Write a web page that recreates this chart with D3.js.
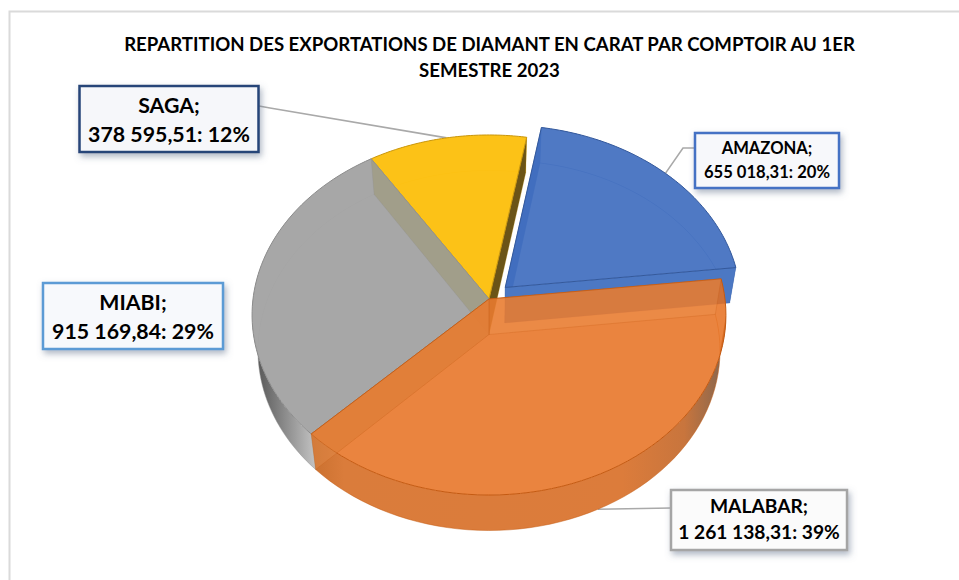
<!DOCTYPE html>
<html>
<head>
<meta charset="utf-8">
<script src="https://cdn.jsdelivr.net/npm/d3@7"></script>
<style>
  body { margin: 0; background: #fff; }
  text { font-family: Lato, "Open Sans", sans-serif; font-weight: 700; fill: #000; }
</style>
</head>
<body>
<div class="chart"></div>
<script>
// Data
let categories = ["AMAZONA", "MALABAR", "MIABI", "SAGA"];
let carats = [655018.31, 1261138.31, 915169.84, 378595.51];
let valueLabels = ["655 018,31", "1 261 138,31", "915 169,84", "378 595,51"];
let percentLabels = ["20%", "39%", "29%", "12%"];
let titleLines = [
  "REPARTITION DES EXPORTATIONS DE DIAMANT EN CARAT PAR COMPTOIR AU 1ER",
  "SEMESTRE 2023"
];

// Slice styles, same order as categories
let topFill = ["#406ebf", "#e66e1d", "#a3a3a3", "#fcc010"];
let topOpacity = [0.92, 0.85, 0.96, 0.97];
let edgeColor = ["#34599c", "#c55a11", "#8c8c8c", "#c9960c"];
let radialFill = ["#4c78c3", "#ee9a5c", "#a09d88", "#6b5417"];
let radialOpacity = [1, 0.25, 0.95, 1];
let wallsAbove = [false, true, true, false];
let whiteBase = [true, false, true, true]; // only the orange slice lets what is behind show through
let wallFromStep = [0, 5, 0, 0];
let outerFill = ["#4c78c3", "url(#wallOrange)", "url(#wallGrey)", "#fcc216"];
let explode = [0.095, 0, 0, 0];
let paintOrder = [0, 3, 2, 1];

// Label boxes, same order as categories
let boxes = [
  { x: 695, y: 133, w: 144, h: 55, stroke: "#4472c4", fill: "#f7f8fb", size: 16.6, line1: 154, line2: 178, width: 2.5 },
  { x: 671, y: 490, w: 176, h: 60, stroke: "#a5a5a5", fill: "#fbfbfb", size: 19.2, line1: 513, line2: 539, width: 2.5 },
  { x: 43, y: 283, w: 180, h: 66, stroke: "#5b9bd5", fill: "#f7f9fc", size: 21.3, line1: 310, line2: 339, width: 2.5 },
  { x: 79.5, y: 86, w: 179, h: 66, stroke: "#264478", fill: "#f6f7fa", size: 21.3, line1: 113, line2: 142, width: 2.5 }
];
// Elbow of the leader, null when the slice has no leader
let leaderElbows = [[683, 148], [671, 508], null, [270, 108]];
let leaderStarts = [[694, 148], [671, 508], null, [259, 106]];

let svgWidth = 959;
let svgHeight = 580;

// Pie geometry: apex on screen, disc radii, perspective and thickness
let apexX = 489;
let apexY = 299;
let radiusX = 236;
let radiusY = 178.6;
let tilt = -0.0889;
let depth = 35.5;
let bottomScale = 0.975;

let svg = d3.select(".chart")
  .append("svg")
  .attr("width", svgWidth)
  .attr("height", svgHeight)
  .style("display", "block");

let defs = svg.append("defs");

let orangeGrad = defs.append("linearGradient")
  .attr("id", "wallOrange")
  .attr("gradientUnits", "userSpaceOnUse")
  .attr("x1", 311).attr("x2", 726).attr("y1", 0).attr("y2", 0);
[[0, "#c9702f"], [0.08, "#da7c3b"], [0.75, "#dc7c3b"], [0.9, "#c8753d"], [1, "#84654f"]].forEach(s => {
  orangeGrad.append("stop").attr("offset", s[0]).attr("stop-color", s[1]);
});

let greyGrad = defs.append("linearGradient")
  .attr("id", "wallGrey")
  .attr("gradientUnits", "userSpaceOnUse")
  .attr("x1", 258).attr("x2", 316).attr("y1", 0).attr("y2", 0);
[[0, "#5a5a5a"], [0.5, "#8f8f8f"], [1, "#c4c4c4"]].forEach(s => {
  greyGrad.append("stop").attr("offset", s[0]).attr("stop-color", s[1]);
});

let shadow = defs.append("filter")
  .attr("id", "boxShadow")
  .attr("x", "-15%").attr("y", "-20%").attr("width", "130%").attr("height", "150%");
shadow.append("feDropShadow")
  .attr("dx", 2).attr("dy", 3.5).attr("stdDeviation", 3)
  .attr("flood-color", "#5f6f8a").attr("flood-opacity", 0.5);

// Chart frame runs off the right and bottom of the picture
svg.append("rect")
  .attr("x", 9.5).attr("y", 11.5)
  .attr("width", svgWidth + 20).attr("height", svgHeight + 20)
  .attr("fill", "#fff")
  .attr("stroke", "#dadada")
  .attr("stroke-width", 2);

let title = svg.append("g");
title.selectAll("text")
  .data(titleLines)
  .enter()
  .append("text")
  .attr("x", 489.5)
  .attr("y", (d, i) => 51 + i * 26)
  .attr("text-anchor", "middle")
  .attr("font-size", 18.6)
  .text(d => d);

// Angles come from d3.pie, turned so the first slice starts at 10 degrees
let startDeg = 10;
let pie = d3.pie()
  .sort(null)
  .startAngle(startDeg * Math.PI / 180)
  .endAngle((startDeg + 360) * Math.PI / 180);
let arcs = pie(carats);

// Disc point (angle clockwise from north) to screen, with the perspective of the tilted disc
function project(angle, r, offX, offY, low) {
  let X = r * Math.sin(angle) + offX;
  let Y = -r * Math.cos(angle) + offY;
  let w = 1 + tilt * Y;
  let sx = radiusX * X / w;
  let sy = radiusY * Y / w;
  if (low) {
    return [apexX + sx * bottomScale, apexY + sy + depth];
  }
  return [apexX + sx, apexY + sy];
}

let line = d3.line();

function offsets(i) {
  let mid = (arcs[i].startAngle + arcs[i].endAngle) / 2;
  return [explode[i] * Math.sin(mid), -explode[i] * Math.cos(mid)];
}

function rim(i, low) {
  let off = offsets(i);
  let a0 = arcs[i].startAngle;
  let a1 = arcs[i].endAngle;
  let steps = d3.range(0, 61).map(k => a0 + (a1 - a0) * k / 60);
  return steps.map(a => project(a, 1, off[0], off[1], low));
}

function center(i, low) {
  let off = offsets(i);
  return project(0, 0, off[0], off[1], low);
}

// Leaders go under the pie and end at the middle of each slice's edge
categories.forEach((c, i) => {
  if (!leaderElbows[i]) return;
  let off = offsets(i);
  let mid = (arcs[i].startAngle + arcs[i].endAngle) / 2;
  let end = project(mid, 1, off[0], off[1], categories[i] === "MALABAR");
  svg.append("path")
    .attr("d", line([leaderStarts[i], leaderElbows[i], end]))
    .attr("fill", "none")
    .attr("stroke", "#a9a9a9")
    .attr("stroke-width", 1.6);
});

let pieGroup = svg.append("g");

paintOrder.forEach(i => {
  let topRim = rim(i, false);
  let lowRim = rim(i, true);
  let topC = center(i, false);
  let lowC = center(i, true);
  let topPath = line([topC].concat(topRim)) + "Z";
  let slice = pieGroup.append("g").attr("class", "slice-" + categories[i]);

  function drawWalls() {
    [[topRim[0], lowRim[0]], [topRim[60], lowRim[60]]].forEach(p => {
      slice.append("path")
        .attr("d", line([topC, p[0], p[1], lowC]) + "Z")
        .attr("fill", radialFill[i])
        .attr("fill-opacity", radialOpacity[i])
        .attr("stroke", edgeColor[i])
        .attr("stroke-opacity", 0.4)
        .attr("stroke-width", 0.6);
    });
  }

  // outer wall
  slice.append("path")
    .attr("d", line(topRim.slice(wallFromStep[i]).concat(lowRim.slice(wallFromStep[i]).reverse())) + "Z")
    .attr("fill", outerFill[i]);

  if (whiteBase[i]) {
    slice.append("path").attr("d", topPath).attr("fill", "#fff");
  }

  // bottom rim, seen through the top face
  slice.append("path")
    .attr("d", line(lowRim))
    .attr("fill", "none")
    .attr("stroke", edgeColor[i])
    .attr("stroke-opacity", 0.6)
    .attr("stroke-width", 0.8);

  if (!wallsAbove[i]) drawWalls();

  // top face
  slice.append("path")
    .attr("d", topPath)
    .attr("fill", topFill[i])
    .attr("fill-opacity", topOpacity[i])
    .attr("stroke", edgeColor[i])
    .attr("stroke-width", 1);

  if (wallsAbove[i]) drawWalls();
});

// Label boxes
let labels = svg.append("g");
categories.forEach((c, i) => {
  let b = boxes[i];
  let g = labels.append("g");
  g.append("rect")
    .attr("x", b.x).attr("y", b.y)
    .attr("width", b.w).attr("height", b.h)
    .attr("fill", b.fill)
    .attr("stroke", b.stroke)
    .attr("stroke-width", b.width)
    .attr("filter", "url(#boxShadow)");
  g.append("text")
    .attr("x", b.x + b.w / 2).attr("y", b.line1)
    .attr("text-anchor", "middle")
    .attr("font-size", b.size)
    .text(c + ";");
  g.append("text")
    .attr("x", b.x + b.w / 2).attr("y", b.line2)
    .attr("text-anchor", "middle")
    .attr("font-size", b.size)
    .text(valueLabels[i] + ": " + percentLabels[i]);
});
</script>
</body>
</html>
